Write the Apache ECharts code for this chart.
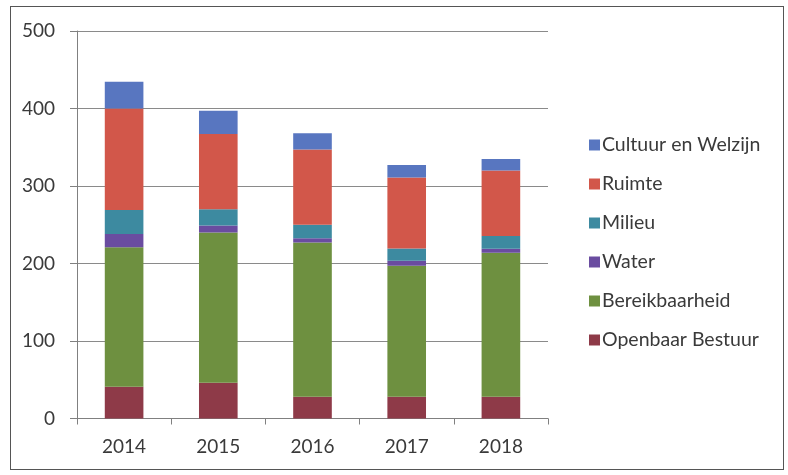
<!DOCTYPE html>
<html><head><meta charset="utf-8">
<script src="https://cdn.jsdelivr.net/npm/echarts@6/dist/echarts.min.js"></script>
<style>html,body{margin:0;padding:0;background:#fff}#c{width:788px;height:475px}
#frame{position:absolute;left:10px;top:6px;width:774px;height:464px;border:1.5px solid #555;box-sizing:border-box;pointer-events:none}</style>
</head><body>
<div id="c"></div><div id="frame"></div>
<script>
const years = ['2014','2015','2016','2017','2018'];
const openbaarBestuur = [41, 46, 28, 28, 28];
const bereikbaarheid = [180, 194, 199, 169, 186];
const water = [17, 9, 5.5, 6.5, 5];
const milieu = [31, 21, 17.5, 16, 16.5];
const ruimte = [131, 97, 97, 91.5, 84.5];
const cultuurEnWelzijn = [34.5, 30, 21, 16, 15];
const yTicks = [0, 100, 200, 300, 400, 500];

const seriesDefs = [
  ['Openbaar Bestuur', openbaarBestuur, '#8E3A48'],
  ['Bereikbaarheid', bereikbaarheid, '#6E9040'],
  ['Water', water, '#6A4CA0'],
  ['Milieu', milieu, '#3D8AA0'],
  ['Ruimte', ruimte, '#D2574A'],
  ['Cultuur en Welzijn', cultuurEnWelzijn, '#5876C0']
];
const chart = echarts.init(document.getElementById('c'));
const font = 'Lato, "Open Sans", sans-serif';
chart.setOption({
  animation: false,
  textStyle: {fontFamily: font},
  grid: {left: 77, right: 240, top: 31, bottom: 56.5},
  legend: {
    orient: 'vertical', left: 584, top: 130, itemGap: 19,
    itemWidth: 11, itemHeight: 11, icon: 'rect',
    data: seriesDefs.map(s => s[0]).reverse(),
    textStyle: {fontFamily: font, fontSize: 19.5, color: '#3a3a3a', padding: [0, 0, 0, -3]}
  },
  xAxis: {
    type: 'category', data: years,
    axisLine: {lineStyle: {color: '#808080', width: 1}},
    axisTick: {show: true, length: 6, lineStyle: {color: '#808080'}},
    axisLabel: {fontSize: 19, color: '#3a3a3a', margin: 19, fontFamily: font}
  },
  yAxis: {
    type: 'value', min: yTicks[0], max: yTicks[yTicks.length - 1], interval: 100,
    axisLine: {show: true, lineStyle: {color: '#808080', width: 1}},
    axisTick: {show: true, length: 7, lineStyle: {color: '#808080'}},
    splitLine: {lineStyle: {color: '#8a8a8a', width: 1}},
    axisLabel: {fontSize: 19, color: '#3a3a3a', margin: 22, fontFamily: font}
  },
  series: seriesDefs.map(([name, data, color]) => ({
    name, type: 'bar', stack: 'total', data, barWidth: '41%',
    itemStyle: {color}
  }))
});
</script>
</body></html>
